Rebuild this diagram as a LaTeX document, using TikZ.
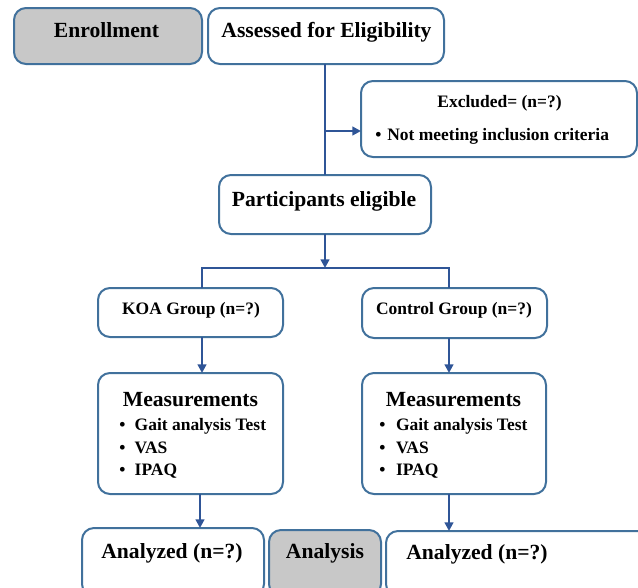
\documentclass[tikz,border=0pt]{standalone}
\usepackage{fontspec}
\setmainfont{Liberation Serif}
\usetikzlibrary{arrows.meta}
\definecolor{boxblue}{RGB}{65,113,156}
\definecolor{lineblue}{RGB}{47,85,151}
\definecolor{boxgray}{RGB}{200,200,200}
\begin{document}
\begin{tikzpicture}[x=0.75pt,y=-0.75pt,
  box/.style={draw=boxblue, line width=1.5pt, rounded corners=9pt, fill=white, inner sep=0pt, outer sep=0pt},
  graybox/.style={box, fill=boxgray},
  big/.style={font=\bfseries\fontsize{16.2}{19}\selectfont, inner sep=0pt, anchor=base},
  small/.style={font=\bfseries\fontsize{13.1}{15}\selectfont, inner sep=0pt, anchor=base},
  item/.style={small, anchor=base west},
  conn/.style={draw=lineblue, line width=2pt},
  arr/.style={conn, -{Triangle[length=6.5pt,width=6.5pt]}}]
\useasboundingbox (0,0) rectangle (638,587);
% boxes
\node[graybox, minimum width=188*0.75pt, minimum height=56*0.75pt] (enroll) at (108,36) {};
\node[box, minimum width=236*0.75pt, minimum height=56*0.75pt] (assess) at (326,36) {};
\node[box, minimum width=276*0.75pt, minimum height=76*0.75pt] (excl) at (499,119) {};
\node[box, minimum width=212*0.75pt, minimum height=59*0.75pt] (part) at (325,204.5) {};
\node[box, minimum width=185*0.75pt, minimum height=49*0.75pt] (koa) at (190.5,312.5) {};
\node[box, minimum width=185*0.75pt, minimum height=50*0.75pt] (ctrl) at (454.5,313) {};
\node[box, minimum width=185*0.75pt, minimum height=121*0.75pt] (measl) at (190.5,433.5) {};
\node[box, minimum width=184*0.75pt, minimum height=121*0.75pt] (measr) at (454,433.5) {};
\node[box, minimum width=182*0.75pt, minimum height=68*0.75pt] (anl) at (173,562) {};
\node[graybox, minimum width=112*0.75pt, minimum height=66*0.75pt] (anal) at (325,563) {};
\node[box, minimum width=264*0.75pt, minimum height=65*0.75pt] (anr) at (518,563.5) {};
% texts
\node[big] (tenroll) at (106.5,37) {Enrollment};
\node[big] (tassess) at (326.5,37) {Assessed for Eligibility};
\node[small] (texcl) at (499.5,107) {Excluded= (n=?)};
\node[item] (texcl2) at (375,140) {\textbullet\hspace{4.5pt}Not meeting inclusion criteria};
\node[big] (tpart) at (324,206) {Participants eligible};
\node[small] (tkoa) at (191,314) {KOA Group (n=?)};
\node[small] (tctrl) at (454,314) {Control Group (n=?)};
\node[big] (tmeasl) at (190.5,406.5) {Measurements};
\node[item] (l1) at (119,430) {\textbullet\hspace{7pt}Gait analysis Test};
\node[item] (l2) at (119,453) {\textbullet\hspace{7pt}VAS};
\node[item] (l3) at (119,475.5) {\textbullet\hspace{7pt}IPAQ};
\node[big] (tmeasr) at (453.5,406.5) {Measurements};
\node[item] (r1) at (379,430) {\textbullet\hspace{8pt}Gait analysis Test};
\node[item] (r2) at (379,453) {\textbullet\hspace{8pt}VAS};
\node[item] (r3) at (379,475.5) {\textbullet\hspace{8pt}IPAQ};
\node[big] (tanl) at (172,558) {Analyzed (n=?)};
\node[big] (tanal) at (325,558) {Analysis};
\node[big] (tanr) at (477,559) {Analyzed (n=?)};
% connectors
\coordinate (top) at (325,64);
\coordinate (br) at (325,131);
\coordinate (split) at (325,268);
\coordinate (sl) at (202,268);
\coordinate (sr) at (449,268);
\draw[conn] (top) -- (top |- part.north);
\draw[arr] (br) -- (br -| excl.west);
\draw[arr] (part.south -| split) -- (split);
\draw[conn] (sl |- koa.north) -- (sl) -- (sr) -- (sr |- ctrl.north);
\draw[arr] (sl |- koa.south) -- (sl |- measl.north);
\draw[arr] (sr |- ctrl.south) -- (sr |- measr.north);
\coordinate (ml) at (200,494);
\coordinate (mr) at (449,494);
\draw[arr] (ml) -- (ml |- anl.north);
\draw[arr] (mr |- measr.south) -- (mr |- anr.north);
\end{tikzpicture}
\end{document}
